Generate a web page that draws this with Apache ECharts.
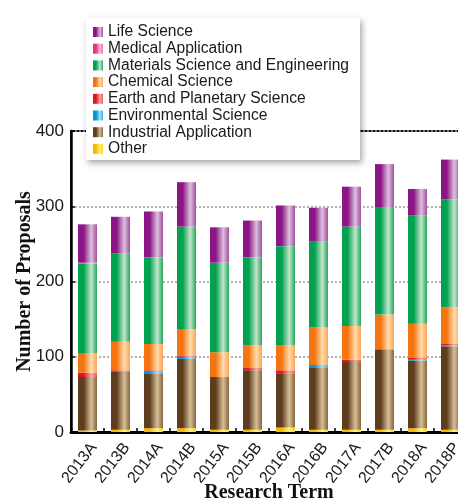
<!DOCTYPE html>
<html>
<head>
<meta charset="utf-8">
<script src="https://cdn.jsdelivr.net/npm/echarts@6/dist/echarts.min.js"></script>
<style>
html,body{margin:0;padding:0;background:#fff;}
#chart{width:458px;height:501px;}
</style>
</head>
<body>
<div id="chart"></div>
<script>
var categories = ['2013A','2013B','2014A','2014B','2015A','2015B','2016A','2016B','2017A','2017B','2018A','2018P'];
var other         = [2, 3, 5, 5, 3, 3, 6, 3, 3, 3, 5, 3];
var industrial    = [71, 77, 72, 92, 70, 79, 72, 83, 90, 106, 90, 111];
var environmental = [0, 0, 3, 3, 0, 0, 0, 2, 0, 0, 1, 1];
var earth         = [6, 2, 2, 1, 0, 3, 4, 1, 3, 1, 3, 2];
var chemical      = [26, 38, 35, 36, 33, 30, 33, 50, 45, 46, 45, 49];
var materials     = [119, 117, 115, 136, 119, 117, 132, 114, 132, 143, 144, 143];
var medical       = [1, 0, 0, 0, 0, 0, 0, 0, 0, 0, 0, 0];
var life          = [51, 49, 61, 59, 47, 49, 54, 45, 53, 57, 35, 53];
var yTicks = [0, 100, 200, 300, 400];

var legendOrder = ['Life Science','Medical Application','Materials Science and Engineering','Chemical Science','Earth and Planetary Science','Environmental Science','Industrial Application','Other'];

function grad(c0, c1, c2) {
  return {type:'linear', x:0, y:0, x2:1, y2:0, colorStops:[
    {offset:0, color:c0},{offset:0.3, color:c0},{offset:0.7, color:c1},{offset:1, color:c2}]};
}

var seriesDefs = [
  ['Other', other, grad('#f7b900','#fff27a','#ffd21a')],
  ['Industrial Application', industrial, grad('#5e3c1e','#d6bf96','#86643e')],
  ['Environmental Science', environmental, grad('#0096dc','#aee0f7','#33aee6')],
  ['Earth and Planetary Science', earth, grad('#e3141e','#f8a8a2','#ee5a5a')],
  ['Chemical Science', chemical, grad('#f47510','#ffdcad','#f9a457')],
  ['Materials Science and Engineering', materials, grad('#00a24f','#c4e6cc','#21a95a')],
  ['Medical Application', medical, grad('#e8327e','#fbc0d8','#ef6fa5')],
  ['Life Science', life, grad('#8c1686','#dcc0dc','#a14f9f')]
];

var series = seriesDefs.map(function(d){
  return {
    name: d[0], type:'bar', stack:'total', data: d[1], barWidth: 19,
    itemStyle: {color: d[2]}
  };
});

var chart = echarts.init(document.getElementById('chart'), null, {renderer:'canvas'});
chart.setOption({
  animation:false,
  backgroundColor:'#fff',
  grid:{left:71, top:131, bottom:69, right:-9, containLabel:false, outerBoundsMode:'none',
    show:true, borderColor:'#111', borderWidth:2, backgroundColor:'transparent'},
  legend:{
    orient:'vertical', left:86, top:18, data:legendOrder,
    backgroundColor:'#fff', padding:[6,11,3,7],
    shadowBlur:6, shadowColor:'rgba(0,0,0,0.35)', shadowOffsetX:2, shadowOffsetY:3,
    itemWidth:10, itemHeight:10, itemGap:0.7, icon:'rect',
    textStyle:{fontFamily:'Liberation Sans, Arial, sans-serif', fontSize:15.6, lineHeight:15, color:'#1a1a1a'}
  },
  xAxis:{
    type:'category', data:categories,
    name:'Research Term', nameLocation:'middle', nameGap:51, nameMoveOverlap:false,
    nameTextStyle:{fontFamily:'Liberation Serif, Times New Roman, serif', fontWeight:'bold', fontSize:20, color:'#111'},
    axisLine:{lineStyle:{color:'#000', width:3}},
    axisTick:{show:true, inside:true, length:4, lineStyle:{color:'#000', width:1.5}},
    axisLabel:{rotate:52, margin:8, verticalAlign:'top', fontFamily:'Liberation Sans, Arial, sans-serif', fontSize:16, color:'#1a1a1a'}
  },
  yAxis:{
    type:'value', min:0, max:400, interval:100,
    name:'Number of Proposals', nameLocation:'middle', nameGap:36, nameRotate:90, nameMoveOverlap:false,
    nameTextStyle:{fontFamily:'Liberation Serif, Times New Roman, serif', fontWeight:'bold', fontSize:20, color:'#111'},
    axisLine:{show:true, lineStyle:{color:'#000', width:2.5}},
    axisTick:{show:true, inside:true, length:4, lineStyle:{color:'#000', width:1.5}},
    axisLabel:{margin:7, fontFamily:'Liberation Sans, Arial, sans-serif', fontSize:17, color:'#1a1a1a',
      formatter:function(v){ return yTicks.indexOf(v) >= 0 ? String(v) : ''; }},
    splitLine:{show:true, lineStyle:{color:'#9a9a9a', type:[2,2], width:1.5}}
  },
  series: series
});
</script>
</body>
</html>
